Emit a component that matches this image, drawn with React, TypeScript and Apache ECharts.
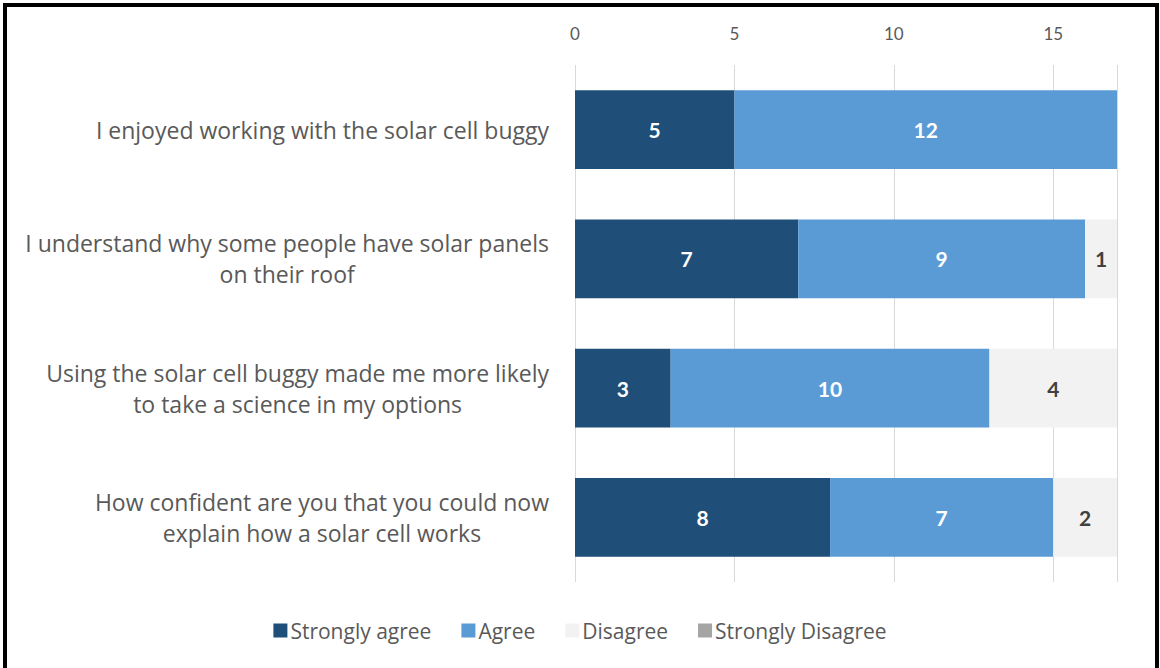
import React, { useEffect, useRef } from "react";
import * as echarts from "echarts";

const categories = [
  "I enjoyed working with the solar cell buggy",
  "I understand why some people have solar panels\non their roof",
  "Using the solar cell buggy made me more likely\nto take a science in my options",
  "How confident are you that you could now\nexplain how a solar cell works",
];
const seriesNames = ["Strongly agree", "Agree", "Disagree", "Strongly Disagree"];
const stronglyAgree = [5, 7, 3, 8];
const agree = [12, 9, 10, 7];
const disagree = [0, 1, 4, 2];
const stronglyDisagree = [0, 0, 0, 0];
const xTicks = [0, 5, 10, 15];

const colors = ["#1F4E79", "#5B9BD5", "#F2F2F2", "#A5A5A5"];
const labelColors = ["#FFFFFF", "#FFFFFF", "#404040", "#404040"];

export default function App() {
  const ref = useRef<HTMLDivElement>(null);
  useEffect(() => {
    document.body.style.margin = "0";
    const chart = echarts.init(ref.current!, null, { renderer: "svg" });
    const values = [stronglyAgree, agree, disagree, stronglyDisagree];
    chart.setOption({
      animation: false,
      backgroundColor: "#FFFFFF",
      textStyle: { fontFamily: "Open Sans" },
      grid: { left: 575, right: 43, top: 65, bottom: 86, containLabel: false },
      xAxis: {
        type: "value",
        position: "top",
        min: 0,
        max: 17,
        interval: 5,
        axisLine: { show: false },
        axisTick: { show: false },
        axisLabel: {
          color: "#595959",
          fontSize: 17,
          fontFamily: "Lato",
          margin: 23,
          formatter: (v: number) => (xTicks.includes(v) ? String(v) : ""),
        },
        splitLine: { show: true, lineStyle: { color: "#D9D9D9", width: 1 } },
      },
      yAxis: {
        type: "category",
        inverse: true,
        data: categories,
        axisLine: { show: false },
        axisTick: { show: false },
        axisLabel: {
          margin: 26,
          formatter: (v: string) =>
            v
              .split("\n")
              .map((l) => `{c|${l}}`)
              .join("\n"),
          rich: {
            c: {
              align: "center",
              color: "#595959",
              fontSize: 23,
              fontFamily: "Open Sans",
              lineHeight: 31,
            },
          },
        },
      },
      legend: {
        bottom: 22,
        left: "center",
        itemWidth: 14,
        itemHeight: 14,
        itemGap: 30,
        icon: "rect",
        textStyle: { color: "#595959", fontSize: 21, fontFamily: "Open Sans", padding: [0, 0, 0, -2] },
        data: seriesNames,
      },
      series: seriesNames.map((name, i) => ({
        name,
        type: "bar",
        stack: "total",
        barCategoryGap: "39%",
        data: values[i],
        itemStyle: { color: colors[i] },
        label: {
          show: true,
          position: "inside",
          color: labelColors[i],
          fontSize: 21,
          fontWeight: "bold",
          fontFamily: "Lato",
          formatter: (p: any) => (p.value ? String(p.value) : ""),
        },
      })),
      graphic: [
        {
          type: "rect",
          shape: { x: 5, y: 5, width: 1152, height: 700 },
          style: { fill: "none", stroke: "#000000", lineWidth: 4 },
          z: 100,
        },
      ],
    });
    return () => chart.dispose();
  }, []);
  return (
    <div
      ref={ref}
      style={{ position: "fixed", left: 0, top: 0, width: 1160, height: 668 }}
    />
  );
}
